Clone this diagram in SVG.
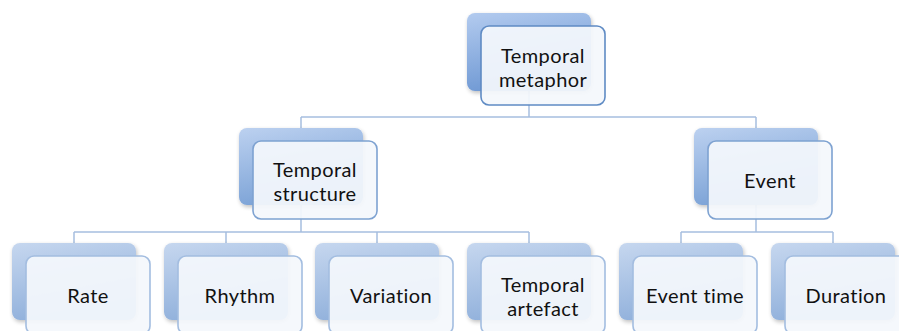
<svg xmlns="http://www.w3.org/2000/svg" width="899" height="331" viewBox="0 0 899 331">
<defs>
<linearGradient id="g1" x1="0" y1="0" x2="0.3" y2="1">
<stop offset="0" stop-color="#b3cbef"/>
<stop offset="1" stop-color="#6e98d3"/>
</linearGradient>
<linearGradient id="g2" x1="0" y1="0" x2="0.3" y2="1">
<stop offset="0" stop-color="#bcd1f0"/>
<stop offset="1" stop-color="#7ba2d6"/>
</linearGradient>
<linearGradient id="g3" x1="0" y1="0" x2="0.3" y2="1">
<stop offset="0" stop-color="#c6d7ef"/>
<stop offset="1" stop-color="#90b0db"/>
</linearGradient>
<filter id="sh" x="-10%" y="-10%" width="130%" height="130%">
<feGaussianBlur in="SourceAlpha" stdDeviation="2"/>
<feOffset dx="1" dy="2" result="b"/>
<feComponentTransfer><feFuncA type="linear" slope="0.25"/></feComponentTransfer>
<feMerge><feMergeNode/><feMergeNode in="SourceGraphic"/></feMerge>
</filter>
</defs>
<style>
.back{filter:url(#sh)}
.b1{fill:url(#g1)}
.b2{fill:url(#g2)}
.b3{fill:url(#g3)}
.front{fill:#f4f7fc;fill-opacity:0.93;stroke-width:1.6}
.f1{stroke:#5f8bc4}
.f2{stroke:#7ea2d1}
.f3{stroke:#a3bde0}
.conn{fill:none;stroke:#a6bedf;stroke-width:1.5}
text{font-family:Lato,"Open Sans","Liberation Sans",sans-serif;font-size:20px;letter-spacing:0.4px;fill:#111;text-anchor:middle}
</style>
<g id="connectors">
<path class="conn" d="M529 91V117M301 117H756M301 117V128M756 117V128"/>
<path class="conn" d="M301 205V232M74 232H529M74 232V243M226 232V243M377 232V243M529 232V243"/>
<path class="conn" d="M756 205V232M681 232H833M681 232V243M833 232V243"/>
</g>
<g id="node-temporal-metaphor">
<rect class="back b1" x="467" y="13" width="124" height="78" rx="8"/>
<rect class="front f1" x="481" y="26" width="124" height="79" rx="8"/>
<text x="543" y="62.5">Temporal</text>
<text x="543" y="86.5">metaphor</text>
</g>
<g id="node-temporal-structure">
<rect class="back b2" x="239" y="128" width="124" height="77" rx="8"/>
<rect class="front f2" x="253" y="141" width="124" height="78" rx="8"/>
<text x="315" y="176.5">Temporal</text>
<text x="315" y="200.5">structure</text>
</g>
<g id="node-event">
<rect class="back b2" x="694" y="128" width="124" height="77" rx="8"/>
<rect class="front f2" x="708" y="141" width="124" height="78" rx="8"/>
<text x="770" y="188">Event</text>
</g>
<g id="node-rate">
<rect class="back b3" x="12" y="243" width="124" height="77" rx="8"/>
<rect class="front f3" x="26" y="256" width="124" height="78" rx="8"/>
<text x="88" y="303">Rate</text>
</g>
<g id="node-rhythm">
<rect class="back b3" x="164" y="243" width="124" height="77" rx="8"/>
<rect class="front f3" x="178" y="256" width="124" height="78" rx="8"/>
<text x="240" y="303">Rhythm</text>
</g>
<g id="node-variation">
<rect class="back b3" x="315" y="243" width="124" height="77" rx="8"/>
<rect class="front f3" x="329" y="256" width="124" height="78" rx="8"/>
<text x="391" y="303">Variation</text>
</g>
<g id="node-temporal-artefact">
<rect class="back b3" x="467" y="243" width="124" height="77" rx="8"/>
<rect class="front f3" x="481" y="256" width="124" height="78" rx="8"/>
<text x="543" y="292">Temporal</text>
<text x="543" y="316">artefact</text>
</g>
<g id="node-event-time">
<rect class="back b3" x="619" y="243" width="124" height="77" rx="8"/>
<rect class="front f3" x="633" y="256" width="124" height="78" rx="8"/>
<text x="695" y="303">Event time</text>
</g>
<g id="node-duration">
<rect class="back b3" x="771" y="243" width="124" height="77" rx="8"/>
<rect class="front f3" x="785" y="256" width="124" height="78" rx="8"/>
<text x="846" y="303">Duration</text>
</g>
</svg>
